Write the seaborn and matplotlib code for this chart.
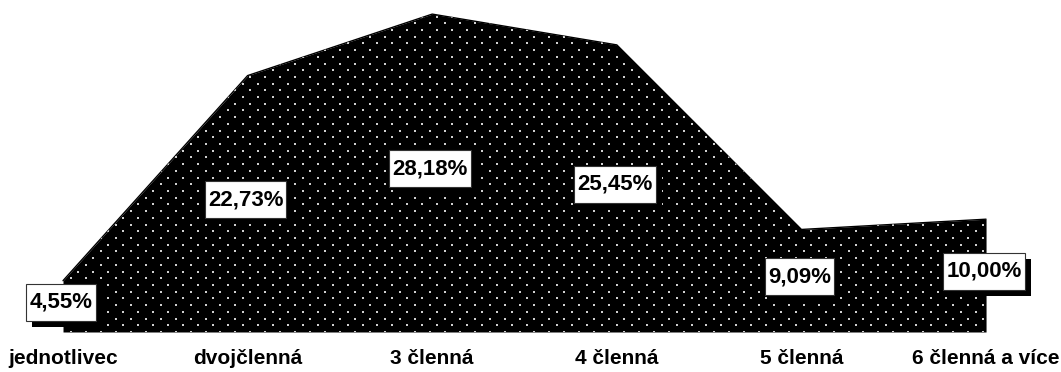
import numpy as np
import pandas as pd
import matplotlib
matplotlib.use("Agg")
import matplotlib.pyplot as plt
import matplotlib.patheffects as pe
import seaborn as sns

# Household size categories and their shares (%)
categories = ["jednotlivec", "dvojčlenná", "3 členná", "4 členná", "5 členná", "6 členná a více"]
shares = [4.55, 22.73, 28.18, 25.45, 9.09, 10.00]

sns.set_theme(style="white")
plt.rcParams["font.family"] = ["Liberation Sans", "DejaVu Sans"]

df = pd.DataFrame({"pos": np.arange(len(categories)), "share": shares})

fig = plt.figure(figsize=(10.61, 3.72), dpi=100)
ax = fig.add_axes([0, 40 / 372, 1, 332 / 372])

# Black area
area = ax.fill_between(df["pos"], 0, df["share"], color="black", linewidth=0, zorder=1)
sns.lineplot(data=df, x="pos", y="share", color="black", linewidth=1, ax=ax, zorder=2)

ax.set_xlim(-0.3413, 5.406)
ax.set_ylim(0, 29.43)

# Dotted texture inside the area (staggered grid of light dots)
dx, dy = 0.081, 0.595
rows = np.arange(0, 30, dy)
px, py = [], []
for k, yv in enumerate(rows):
    xs = np.arange(-0.2 + (dx / 2 if k % 2 else 0), 5.3, dx)
    px.extend(xs)
    py.extend([yv] * len(xs))
dots = ax.scatter(px, py, s=1.6, marker="s", color="#cfcfcf", linewidths=0, zorder=3)
dots.set_clip_path(area.get_paths()[0], transform=ax.transData)

# Value labels in boxed callouts with a drop shadow
for i, v in enumerate(shares):
    t = ax.annotate(f"{v:.2f}".replace(".", ",") + "%", xy=(i, v / 2),
                    xytext=(-1.5, 3), textcoords="offset points",
                    ha="center", va="center", fontsize=16, fontweight="bold",
                    color="black", zorder=5,
                    bbox=dict(boxstyle="square,pad=0.14", facecolor="white",
                              edgecolor="#333333", linewidth=0.8,
                              mutation_aspect=2.6))
    t.get_bbox_patch().set_path_effects([
        pe.SimplePatchShadow(offset=(4.3, -4.3), shadow_rgbFace="black", alpha=1),
        pe.Normal()])

ax.set_xticks(range(len(categories)))
ax.set_xticklabels(categories, fontsize=15, fontweight="bold", color="black")
ax.tick_params(axis="x", length=0, pad=12)
ax.set_yticks([])
ax.set_xlabel("")
ax.set_ylabel("")
for s in ax.spines.values():
    s.set_visible(False)
ax.patch.set_alpha(0)

fig.savefig("out.png", dpi=100)
